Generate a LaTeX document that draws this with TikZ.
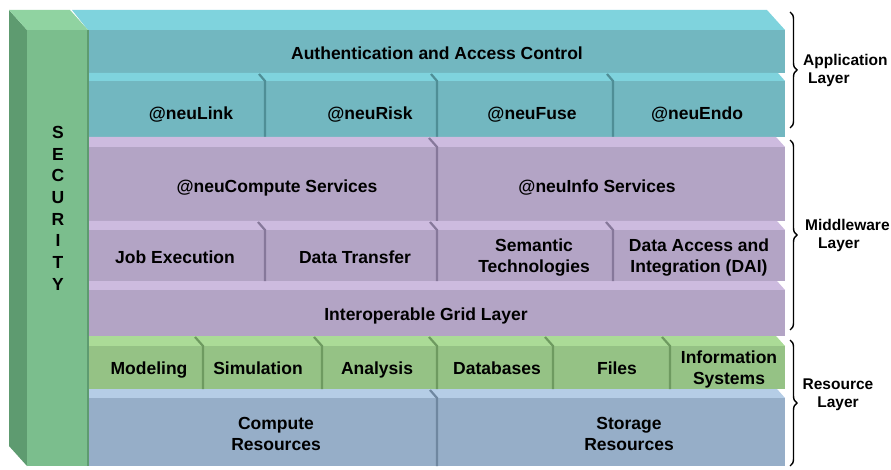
\documentclass[tikz,border=0pt]{standalone}
\usepackage{fontspec}
\setmainfont{Liberation Sans}
\usetikzlibrary{decorations.pathreplacing}

\definecolor{tealtop}{HTML}{7FD3DD}
\definecolor{tealfront}{HTML}{72B7C0}
\definecolor{tealline}{HTML}{4F8E96}
\definecolor{purptop}{HTML}{CDBBDF}
\definecolor{purpfront}{HTML}{B3A4C5}
\definecolor{purpline}{HTML}{86789A}
\definecolor{greentop}{HTML}{ABDB97}
\definecolor{greenfront}{HTML}{95C285}
\definecolor{greenline}{HTML}{6E9A60}
\definecolor{bluetop}{HTML}{B5CDE6}
\definecolor{bluefront}{HTML}{96AEC8}
\definecolor{blueline}{HTML}{6F87A0}
\definecolor{secside}{HTML}{5E9B70}
\definecolor{sectop}{HTML}{90D3A1}
\definecolor{secfront}{HTML}{7BBE8D}

\begin{document}
\begin{tikzpicture}[x=1pt, y=-1pt,
lbl/.style={font=\fontsize{17.5}{21}\selectfont\bfseries, align=center, inner sep=0pt,
            yshift=-2.5pt, execute at begin node=\strut, execute at end node=\strut},
sidelbl/.style={font=\fontsize{15.5}{18}\selectfont\bfseries, inner sep=0pt},
tealdiv/.style={draw=tealline, line width=2.2pt},
purpdiv/.style={draw=purpline, line width=2.2pt},
greendiv/.style={draw=greenline, line width=2.2pt},
bluediv/.style={draw=blueline, line width=2.2pt},
layerbrace/.style={draw, line width=1.4pt, decorate, decoration={brace, amplitude=7pt}}
]
  \useasboundingbox (0,0) rectangle (891,470);

  % application layer
  \fill[tealtop] (72,10) -- (767,10) -- (785,30) -- (88,30) -- cycle;
  \fill[tealfront] (88,30) rectangle (785,73);
  \fill[tealtop] (88,73) -- (778,73) -- (785,81) -- (88,81) -- cycle;
  \fill[tealfront] (88,81) rectangle (785,137);
  \draw[tealdiv] (259,74) -- (265,81) -- (265,137)
                 (431,74) -- (437,81) -- (437,137)
                 (607,74) -- (613,81) -- (613,137);

  % middleware layer
  \fill[purptop] (88,137) -- (776,137) -- (785,147) -- (88,147) -- cycle;
  \fill[purpfront] (88,147) rectangle (785,221);
  \fill[purptop] (88,221) -- (777,221) -- (785,230) -- (88,230) -- cycle;
  \fill[purpfront] (88,230) rectangle (785,281);
  \fill[purptop] (88,281) -- (777,281) -- (785,290) -- (88,290) -- cycle;
  \fill[purpfront] (88,290) rectangle (785,336);
  \draw[purpdiv] (429,138) -- (437,147) -- (437,221)
                 (258,222) -- (265,230) -- (265,281)
                 (430,222) -- (437,230) -- (437,281)
                 (606,222) -- (613,230) -- (613,281);

  % resource layer
  \fill[greentop] (88,336) -- (776,336) -- (785,346) -- (88,346) -- cycle;
  \fill[greenfront] (88,346) rectangle (785,389);
  \fill[bluetop] (88,389) -- (777,389) -- (785,398) -- (88,398) -- cycle;
  \fill[bluefront] (88,398) rectangle (785,466);
  \draw[greendiv] (195,337) -- (203,346) -- (203,389)
                  (314,337) -- (322,346) -- (322,389)
                  (429,337) -- (437,346) -- (437,389)
                  (545,337) -- (553,346) -- (553,389)
                  (662,337) -- (670,346) -- (670,389);
  \draw[bluediv] (430,390) -- (437,398) -- (437,466);

  % security column
  \fill[secside] (9,10) -- (27,30) -- (27,466) -- (9,446) -- cycle;
  \fill[sectop] (9,10) -- (70,10) -- (88,30) -- (27,30) -- cycle;
  \fill[secfront] (27,30) rectangle (88,466);
  \draw[secside, line width=1.5pt] (88,30) -- (88,466);

  \node[lbl, font=\fontsize{17.5}{21.7}\selectfont\bfseries] (security) at (58,209)
        {S\\E\\C\\U\\R\\I\\T\\Y};

  \node[lbl] (auth) at (437,53) {Authentication and Access Control};
  \node[lbl] (link) at (191,113) {@neuLink};
  \node[lbl] (risk) at (370,113) {@neuRisk};
  \node[lbl] (fuse) at (532,113) {@neuFuse};
  \node[lbl] (endo) at (697,113) {@neuEndo};

  \node[lbl] (compute) at (277,186) {@neuCompute Services};
  \node[lbl] (info) at (597,186) {@neuInfo Services};
  \node[lbl] (job) at (175,257) {Job Execution};
  \node[lbl] (transfer) at (355,257) {Data Transfer};
  \node[lbl] (semantic) at (534,256) {Semantic\\Technologies};
  \node[lbl] (dai) at (699,256) {Data Access and\\Integration (DAI)};
  \node[lbl] (grid) at (426,314) {Interoperable Grid Layer};

  \node[lbl] (modeling) at (149,368) {Modeling};
  \node[lbl] (simulation) at (258,368) {Simulation};
  \node[lbl] (analysis) at (377,368) {Analysis};
  \node[lbl] (databases) at (497,368) {Databases};
  \node[lbl] (files) at (617,368) {Files};
  \node[lbl] (infosys) at (729,368) {Information\\Systems};
  \node[lbl] (computeres) at (276,435) {Compute\\Resources};
  \node[lbl] (storage) at (629,435) {Storage\\Resources};

  % layer braces
  \coordinate (apptop) at (790,12);
  \coordinate (appbot) at (790,128);
  \coordinate (midtop) at (790,140);
  \coordinate (midbot) at (790,330);
  \coordinate (restop) at (790,340);
  \coordinate (resbot) at (790,466);

  \draw[layerbrace] (apptop) -- (appbot);
  \draw[layerbrace] (midtop) -- (midbot);
  \draw[layerbrace] (restop) -- (resbot);

  \node[sidelbl, anchor=west, align=left] (applayer) at (803,70)
        {Application\\\hspace*{5pt}Layer};
  \node[sidelbl, anchor=west, align=left] (midlayer) at (805,235)
        {Middleware\\\hspace*{13pt}Layer};
  \node[sidelbl, align=center] (reslayer) at (838,395) {Resource\\Layer};
\end{tikzpicture}
\end{document}
